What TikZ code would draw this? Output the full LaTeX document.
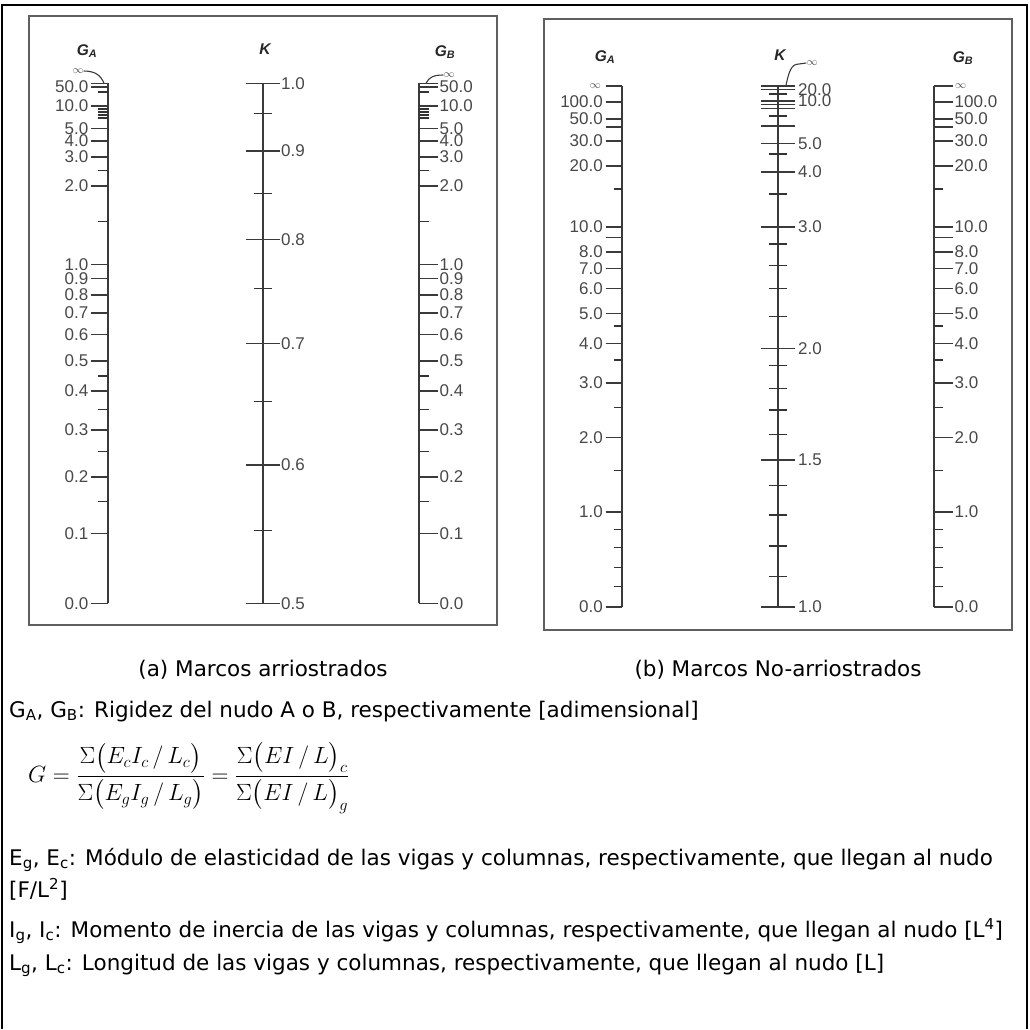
\RequirePackage{fix-cm}
\documentclass[tikz,border=0pt]{standalone}
\usepackage{amsmath}
\usepackage{fontspec}
\setmainfont{DejaVu Sans}
\newfontfamily\fuenteejes{Liberation Sans}
\usetikzlibrary{positioning}
\definecolor{grisoscuro}{RGB}{58,58,58}
\definecolor{grisrotulo}{RGB}{72,72,72}
\definecolor{grismarco}{RGB}{95,95,95}
\tikzset{
  eje/.style={draw=grisoscuro,line width=1.8pt},
  marca/.style={draw=grisoscuro,line width=1.6pt},
  marcamenor/.style={draw=black!80,line width=1.3pt},
  rotulo/.style={inner sep=0pt,text=grisrotulo,font=\fuenteejes\fontsize{17}{17}\selectfont},
  titulo/.style={inner sep=0pt,text=black!85,font=\fuenteejes\fontsize{15.5}{15.5}\selectfont\bfseries\itshape},
  infinito/.style={inner sep=0pt,text=grisrotulo,font=\fontsize{11}{11}\selectfont},
  guia/.style={draw=grisoscuro,line width=1.1pt},
  marco/.style={draw=grismarco,line width=2.2pt},
  texto/.style={inner sep=0pt,anchor=base west,font=\fontsize{21.5}{26}\selectfont},
  leyenda/.style={inner sep=0pt,font=\fontsize{21.5}{26}\selectfont}
}

\begin{document}
\begin{tikzpicture}[x=1pt,y=-1pt]
\useasboundingbox (0,0) rectangle (1030,1029);
\draw[line width=2pt] (2,1029) |- (1027,5) -- (1027,1029);
\draw[marco] (29,16) rectangle (497,625);
\draw[marco] (544,19) rectangle (1012,630);

% (a) marcos arriostrados
\node[titulo] (tga) at (87,51) {G\textsubscript{A}};
\node[titulo] (tka) at (265,49) {K};
\node[titulo] (tgb) at (445,52) {G\textsubscript{B}};
\draw[eje] (108,83.3) -- (108,603.3);
\draw[eje] (419,83.3) -- (419,603.3);
\draw[marca] (91,83.3) -- (108,83.3) (419,83.3) -- (438,83.3);
\foreach \y/\t [count=\i] in {87/50.0,106/10.0,128.3/5.0,140.7/4.0,156.7/3.0,185.7/2.0,264.3/1.0,278.3/0.9,295/0.8,312.7/0.7,334.3/0.6,361/0.5,390.7/0.4,430/0.3,476.7/0.2,533.3/0.1,603.3/0.0}{
  \draw[marca] (91,\y) -- (108,\y) (419,\y) -- (438,\y);
  \node[rotulo,anchor=east] (gaa-\i) at (88.5,\y) {\t};
  \node[rotulo,anchor=west] (gba-\i) at (439.5,\y) {\t};
}
\foreach \y in {92,109,112,115,118,170.7,221.7,376,409.3,451.7,501.7}
  \draw[marcamenor] (98,\y) -- (108,\y) (419,\y) -- (429,\y);
\node[infinito] (infga) at (78,71) {$\infty$};
\coordinate (topga) at (104,83.3);
\draw[guia] (infga.east) .. controls (96,71) and (101,76) .. (topga);
\node[infinito] (infgb) at (449,75) {$\infty$};
\coordinate (topgb) at (426,83.3);
\draw[guia] (topgb) .. controls (429,77) and (434,75) .. (infgb.west);
\draw[eje] (262.7,83.3) -- (262.7,603.3);
\foreach \y/\t [count=\i] in {83.3/1.0,151/0.9,239.3/0.8,343.3/0.7,465/0.6,603.3/0.5}{
  \draw[marca] (245.7,\y) -- (279.7,\y);
  \node[rotulo,anchor=west] (ka-\i) at (281,\y) {\t};
}
\foreach \y in {113.3,193.3,288.3,401.7,530.7}
  \draw[marcamenor] (254,\y) -- (272,\y);

% (b) marcos no arriostrados
\node[titulo] (tgab) at (605,57) {G\textsubscript{A}};
\node[titulo] (tkb) at (780,55) {K};
\node[titulo] (tgbb) at (963,58) {G\textsubscript{B}};
\draw[eje] (622.3,86) -- (622.3,606.7);
\draw[eje] (934,86) -- (934,606.7);
\foreach \y/\t [count=\i] in {101.7/100.0,119/50.0,140.7/30.0,165.7/20.0,226.7/10.0,251.7/8.0,268.3/7.0,288.3/6.0,313.3/5.0,343.3/4.0,382.7/3.0,437.3/2.0,511.7/1.0,606.7/0.0}{
  \draw[marca] (605.7,\y) -- (622.3,\y) (934,\y) -- (952.7,\y);
  \node[rotulo,anchor=east] (gab-\i) at (603,\y) {\t};
  \node[rotulo,anchor=west] (gbb-\i) at (954.5,\y) {\t};
}
\foreach \y in {86,126.7,237.3}
  \draw[marca] (605.7,\y) -- (622.3,\y) (934,\y) -- (952.7,\y);
\foreach \y in {189,326,360,407.3,470.7,529.3,547.7,567.3,586.7}
  \draw[marcamenor] (614,\y) -- (622.3,\y) (934,\y) -- (943.3,\y);
\node[infinito,anchor=east] (infgab) at (601,86) {$\infty$};
\node[infinito,anchor=west] (infgbb) at (955,86) {$\infty$};
\draw[eje] (778.3,85.7) -- (778.3,606.7);
\foreach \y/\t [count=\i] in {89.5/20.0,101/10.0,143.3/5.0,171.7/4.0,226.7/3.0,348.3/2.0,460/1.5,606.7/1.0}{
  \draw[marca] (761.3,\y) -- (795.3,\y);
  \node[rotulo,anchor=west] (kb-\i) at (798,\y) {\t};
}
\foreach \y in {85.7,104.5,108.5,126}
  \draw[marca] (761.3,\y) -- (795.3,\y);
\foreach \y in {94,116,154,194,244,265.7,288.3,316.7,365.7,388.3,410,434.3,485.7,515,546,576.7}
  \draw[marcamenor] (769.3,\y) -- (787.3,\y);
\node[infinito] (infkb) at (812,63) {$\infty$};
\coordinate (topkb) at (786,85);
\draw[guia] (topkb) .. controls (789,72) and (791,64) .. (799,64) -- (infkb.west);

% leyendas y notas
\node[leyenda] (capa) at (263,670) {(a) Marcos arriostrados};
\node[leyenda] (capb) at (778,670) {(b) Marcos No-arriostrados};
\node[texto] (nga) at (9,717) {G\textsubscript{A}, G\textsubscript{B}: Rigidez del nudo A o B, respectivamente [adimensional]};
\node[inner sep=0pt,anchor=west,font=\fontsize{23.5}{27}\selectfont] (formG) at (28,778)
  {$G=\dfrac{\Sigma\bigl(E_cI_c\,/\,L_c\bigr)}{\Sigma\bigl(E_gI_g\,/\,L_g\bigr)}=\dfrac{\Sigma\bigl(EI\,/\,L\bigr)_c}{\Sigma\bigl(EI\,/\,L\bigr)_g}$};
\node[texto] (nge) at (9,865) {E\textsubscript{g}, E\textsubscript{c}: Módulo de elasticidad de las vigas y columnas, respectivamente, que llegan al nudo};
\node[texto] (ngf) at (9,897) {[F/L\textsuperscript{2}]};
\node[texto] (ngi) at (9,937) {I\textsubscript{g}, I\textsubscript{c}: Momento de inercia de las vigas y columnas, respectivamente, que llegan al nudo [L\textsuperscript{4}]};
\node[texto] (ngl) at (9,970) {L\textsubscript{g}, L\textsubscript{c}: Longitud de las vigas y columnas, respectivamente, que llegan al nudo [L]};
\end{tikzpicture}
\end{document}
